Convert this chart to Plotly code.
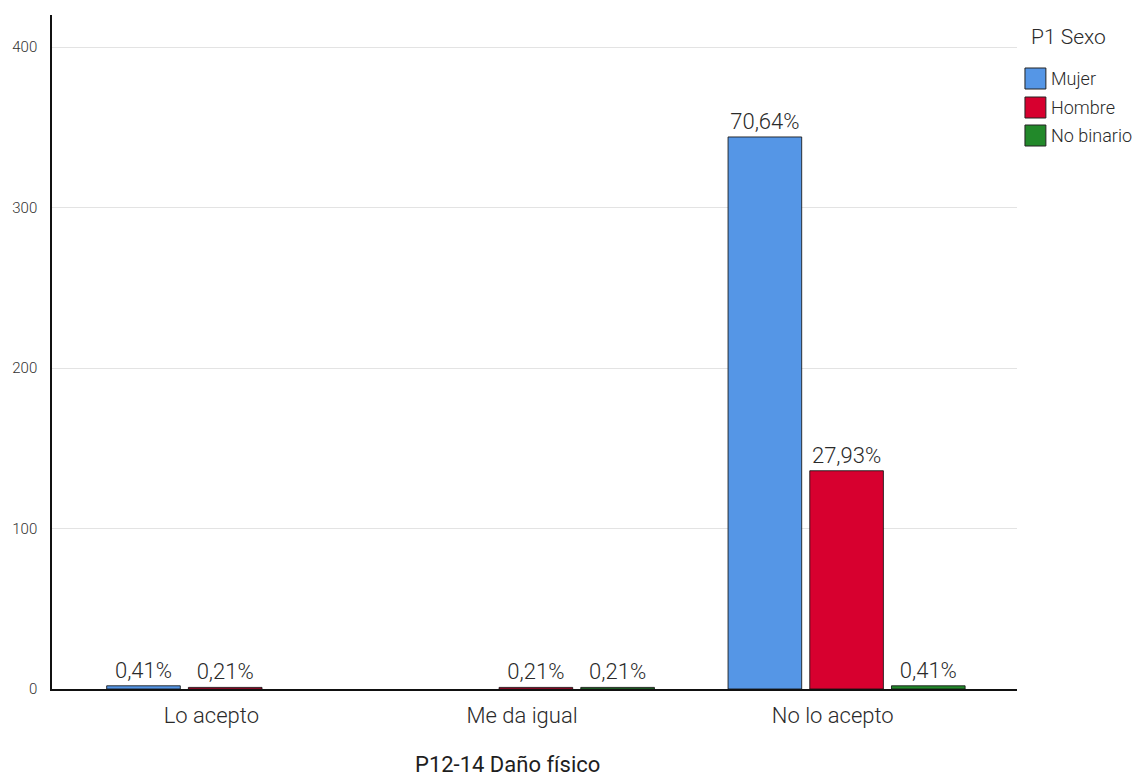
import plotly.graph_objects as go

categories = ["Lo acepto", "Me da igual", "No lo acepto"]
series_names = ["Mujer", "Hombre", "No binario"]
mujer = [2, 0, 344]
hombre = [1, 1, 136]
no_binario = [0, 1, 2]
mujer_pct = ["0,41%", "", "70,64%"]
hombre_pct = ["0,21%", "0,21%", "27,93%"]
no_binario_pct = ["", "0,21%", "0,41%"]
colors = ["#5596E6", "#D7002F", "#22892A"]
y_ticks = [0, 100, 200, 300, 400]

values = [mujer, hombre, no_binario]
labels = [mujer_pct, hombre_pct, no_binario_pct]

FONT = "Roboto"
TXT = "#2a2a2a"
WEIGHT = 300

W, H = 1137, 778
# plot area in page pixels
PL, PR, PT, PB = 48, 1017, 15, 689
L, T = PL, PT
R, B = W - PR, H - PB
PW, PH = PR - PL, PB - PT

bar_w = 0.237
offsets = [-0.337, -0.074, 0.189]

fig = go.Figure()
for name, vals, txt, col, off in zip(series_names, values, labels, colors, offsets):
    fig.add_trace(go.Bar(
        x=categories, y=vals, name=name,
        marker=dict(color=col,
                    line=dict(color="rgba(20,20,20,0.85)",
                              width=[1 if v > 0 else 0 for v in vals])),
        width=bar_w, offset=off,
        text=txt, textposition="outside", cliponaxis=False,
        textfont=dict(family=FONT, size=22, color=TXT, weight=WEIGHT),
        showlegend=False,
    ))

def px_x(px):
    return (px - PL) / PW

def px_y(py):
    return (PB - py) / PH

annotations = []
shapes = []
# legend title
annotations.append(dict(text="P1 Sexo", xref="paper", yref="paper",
                        x=px_x(1029), y=px_y(37), xanchor="left", yanchor="middle",
                        showarrow=False, font=dict(family=FONT, size=21, color=TXT, weight=WEIGHT)))
box_tops = [68, 97, 125]
for name, col, top in zip(series_names, colors, box_tops):
    shapes.append(dict(type="rect", xref="paper", yref="paper",
                       x0=px_x(1025), x1=px_x(1046), y0=px_y(top + 21), y1=px_y(top),
                       fillcolor=col, line=dict(color="#222", width=1)))
    annotations.append(dict(text=name, xref="paper", yref="paper",
                            x=px_x(1049), y=px_y(top + 10.5), xanchor="left", yanchor="middle",
                            showarrow=False, font=dict(family=FONT, size=18, color=TXT, weight=WEIGHT)))
# x axis title
annotations.append(dict(text="P12-14 Daño físico", xref="paper", yref="paper",
                        x=px_x(505), y=px_y(765), xanchor="center", yanchor="middle",
                        showarrow=False, font=dict(family=FONT, size=22, color="#1e1e1e")))

fig.update_layout(
    width=W, height=H,
    margin=dict(l=L, r=R, t=T, b=B, pad=0),
    barmode="overlay",
    plot_bgcolor="white", paper_bgcolor="white",
    font=dict(family=FONT, color=TXT),
    annotations=annotations, shapes=shapes,
    showlegend=False,
)
fig.update_xaxes(
    type="category", range=[-0.513, 2.593],
    showline=True, linecolor="#111", linewidth=1.5,
    showgrid=False, ticks="", ticklabelstandoff=6,
    tickfont=dict(family=FONT, size=22, color=TXT, weight=WEIGHT),
)
fig.update_yaxes(
    range=[0, 420], tickvals=y_ticks,
    showline=True, linecolor="#111", linewidth=1.5,
    showgrid=True, gridcolor="#e3e3e3", gridwidth=1,
    zeroline=False, ticks="", ticklabelstandoff=10,
    tickfont=dict(family=FONT, size=15, color="#333", weight=WEIGHT),
)

fig.write_html(
    "out.html",
    config={"displayModeBar": False},
    post_script="document.body.style.margin='0';document.body.style.overflow='hidden';",
)
